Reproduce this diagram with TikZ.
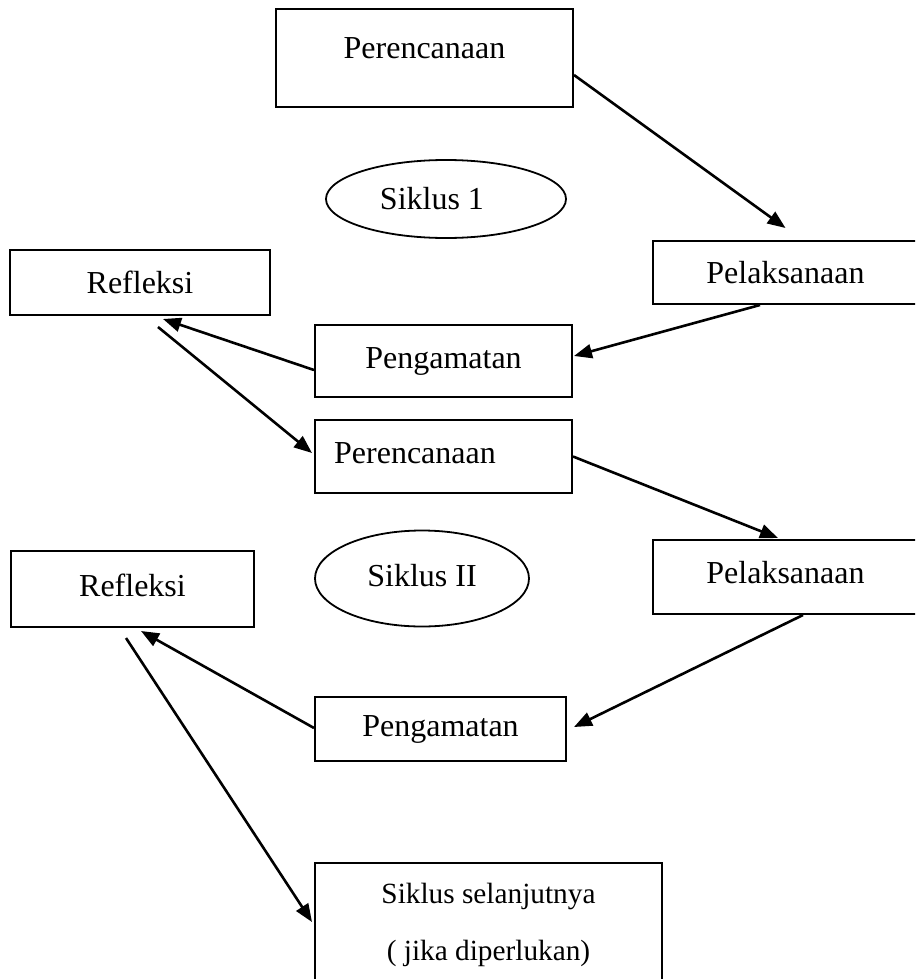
\documentclass[tikz,border=0pt]{standalone}
\usepackage{fontspec}
\setmainfont{Liberation Serif}
\usetikzlibrary{arrows.meta,shapes.geometric}
\tikzset{
  box/.style={draw, line width=2pt, rectangle, inner sep=0pt, font=\fontsize{32pt}{38pt}\selectfont},
  oval/.style={draw, line width=1.8pt, ellipse, inner sep=0pt, font=\fontsize{32pt}{38pt}\selectfont},
  arr/.style={line width=2.6pt, -{Triangle[length=18pt,width=14pt]}}
}
\begin{document}
\begin{tikzpicture}[x=1pt,y=-1pt]
\useasboundingbox (0,0) rectangle (915,979);
\fill[white] (0,0) rectangle (915,979);
\clip (0,0) rectangle (915,979);
% boxes
\node[box, minimum width=297pt, minimum height=98pt] (A) at (424.5,58) {\raisebox{19pt}{Perencanaan}};
\node[oval, minimum width=240pt, minimum height=78pt] (e1) at (446,199) {\hspace*{-28pt}Siklus 1};
\node[box, minimum width=265pt, minimum height=63pt] (B) at (785.5,272.5) {Pelaksanaan};
\node[box, minimum width=260pt, minimum height=65pt] (C) at (140,282.5) {Refleksi};
\node[box, minimum width=257pt, minimum height=72pt] (D) at (443.5,361) {\raisebox{2.5pt}{Pengamatan}};
\node[box, minimum width=257pt, minimum height=73pt] (E) at (443.5,456.5) {\hspace*{-57pt}\raisebox{6pt}{Perencanaan}};
\node[oval, minimum width=214pt, minimum height=96pt] (e2) at (422,578.5) {\raisebox{6pt}{Siklus II}};
\node[box, minimum width=243pt, minimum height=76pt] (F) at (132.5,589) {\raisebox{8pt}{Refleksi}};
\node[box, minimum width=265pt, minimum height=74pt] (G) at (785.5,577) {\raisebox{8.5pt}{Pelaksanaan}};
\node[box, minimum width=251pt, minimum height=64pt] (H) at (440.5,729) {Pengamatan};
\node[box, minimum width=347pt, minimum height=123pt, align=center, font=\fontsize{29.3pt}{57pt}\selectfont] (I) at (488.5,924.5) {Siklus selanjutnya\\( jika diperlukan)};
% connectors
\draw[arr] ([yshift=-17pt]A.east) -- ([yshift=12pt]B.north);
\draw[arr] ([xshift=-25.5pt]B.south) -- ([xshift=1pt,yshift=5pt]D.east);
\draw[arr] ([yshift=-9pt]D.west) -- ([xshift=23pt,yshift=-3pt]C.south);
\draw[arr] ([xshift=18pt,yshift=-11pt]C.south) -- ([xshift=-2pt,yshift=3.5pt]E.west);
\draw[arr] (E.east) -- ([xshift=-7.5pt,yshift=1pt]G.north);
\draw[arr] ([xshift=17.5pt]G.south) -- ([xshift=7pt,yshift=2pt]H.east);
\draw[arr] ([yshift=1pt]H.west) -- ([xshift=8.5pt,yshift=-3pt]F.south);
\draw[arr] ([xshift=-6.5pt,yshift=-10pt]F.south) -- ([xshift=-2pt,yshift=2.5pt]I.west);
\end{tikzpicture}
\end{document}
